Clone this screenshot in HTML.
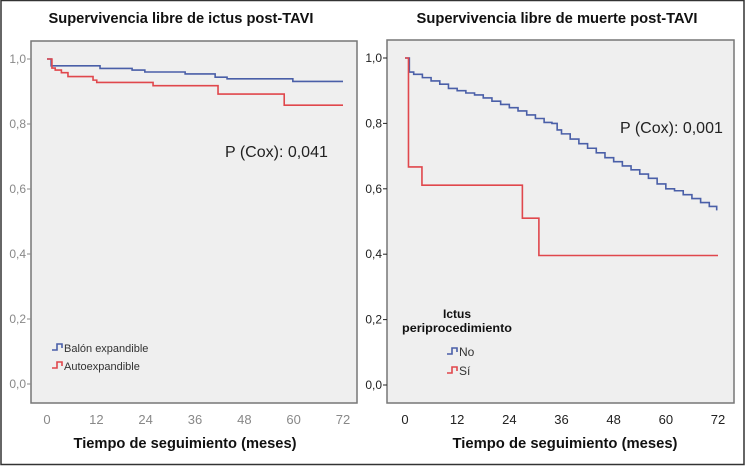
<!DOCTYPE html>
<html><head><meta charset="utf-8"><style>
html,body{margin:0;padding:0;background:#fff;}
svg{display:block;font-family:"Liberation Sans",sans-serif;}
</style></head><body>
<svg id="c" width="750" height="474" viewBox="0 0 750 474">
<rect x="1" y="0.5" width="743" height="464" fill="#fff" stroke="#333" stroke-width="1.5"/>
<g id="L">
<text x="181" y="23" text-anchor="middle" font-weight="bold" font-size="15" textLength="265" lengthAdjust="spacingAndGlyphs" fill="#111">Supervivencia libre de ictus post-TAVI</text>
<rect x="31" y="41" width="326" height="362" fill="#efefef" stroke="#777" stroke-width="1.5"/>
<text x="225" y="157" font-size="16" fill="#222">P (Cox): 0,041</text>
<text x="185" y="448" text-anchor="middle" font-weight="bold" font-size="15" textLength="223" lengthAdjust="spacingAndGlyphs" fill="#111">Tiempo de seguimiento (meses)</text>
</g>
<g id="R">
<text x="557" y="23" text-anchor="middle" font-weight="bold" font-size="15" textLength="281" lengthAdjust="spacingAndGlyphs" fill="#111">Supervivencia libre de muerte post-TAVI</text>
<rect x="387" y="40" width="347" height="363" fill="#efefef" stroke="#777" stroke-width="1.5"/>
<text x="620" y="133" font-size="16" fill="#222">P (Cox): 0,001</text>
<text x="565" y="448" text-anchor="middle" font-weight="bold" font-size="15" textLength="225" lengthAdjust="spacingAndGlyphs" fill="#111">Tiempo de seguimiento (meses)</text>
<text x="457" y="318" text-anchor="middle" font-weight="bold" font-size="12" fill="#111">Ictus</text>
<text x="457" y="332" text-anchor="middle" font-weight="bold" font-size="12" textLength="110" lengthAdjust="spacingAndGlyphs" fill="#111">periprocedimiento</text>
</g>
</svg>
<script>
// x ticks
const xTicks = [0, 12, 24, 36, 48, 60, 72];
const yTicks = [0, 0.2, 0.4, 0.6, 0.8, 1.0];
const yTickLabels = ["0,0", "0,2", "0,4", "0,6", "0,8", "1,0"];
// Left panel: stroke-free survival
const leftBlueT = [0, 1, 12.9, 20.7, 23.8, 33.6, 40.9, 43.8, 59.8, 72];
const leftBlueS = [1.0, 0.979, 0.971, 0.966, 0.96, 0.954, 0.944, 0.939, 0.931, 0.931];
const leftRedT = [0, 1.2, 2, 3.5, 5.1, 11.2, 12.1, 25.8, 41.6, 57.7, 72];
const leftRedS = [1.0, 0.972, 0.966, 0.958, 0.946, 0.935, 0.928, 0.918, 0.892, 0.858, 0.858];
// Right panel: death-free survival
const rightBlueT = [0, 1, 2, 4, 6, 8, 10, 12, 14, 16, 18, 20, 22, 24, 26, 28, 30, 32, 33.8, 35, 36, 38, 40, 42, 44, 46, 48, 50, 52, 54, 56, 58, 60, 62, 64, 66, 68, 70, 71.7];
const rightBlueS = [1.0, 0.957, 0.95, 0.94, 0.93, 0.92, 0.907, 0.9, 0.893, 0.887, 0.878, 0.868, 0.858, 0.848, 0.838, 0.826, 0.815, 0.803, 0.8, 0.78, 0.768, 0.752, 0.738, 0.724, 0.71, 0.695, 0.683, 0.67, 0.658, 0.645, 0.632, 0.615, 0.6, 0.594, 0.582, 0.57, 0.558, 0.546, 0.534];
const rightRedT = [0, 0.8, 3.9, 27, 30.8, 72];
const rightRedS = [1.0, 0.667, 0.611, 0.51, 0.396, 0.396];

const NS = "http://www.w3.org/2000/svg";
const svg = document.getElementById('c');
function mk(tag, attrs, parent, txt) {
  const e = document.createElementNS(NS, tag);
  for (const k in attrs) e.setAttribute(k, attrs[k]);
  if (txt !== undefined) e.textContent = txt;
  (parent || svg).appendChild(e);
  return e;
}
const panels = {
  L: { x0: 47, x1: 343, y0: 384, y1: 59, left: 31, bottom: 403, tickCol: "#888", g: document.getElementById('L') },
  R: { x0: 405, x1: 718, y0: 385, y1: 58, left: 387, bottom: 403, tickCol: "#222", g: document.getElementById('R') }
};
function sx(p, t) { return p.x0 + (p.x1 - p.x0) * t / 72; }
function sy(p, s) { return p.y0 + (p.y1 - p.y0) * s; }
function axes(p, pre) {
  xTicks.forEach(t => {
    const tx = mk('text', { x: sx(p, t), y: 424, 'text-anchor': 'middle', 'font-size': 13, fill: p.tickCol }, p.g, String(t));
    
    
  });
  yTicks.forEach((v, i) => {
    const y = sy(p, v);
    const ln = mk('line', { x1: p.left - 4, x2: p.left, y1: y, y2: y, stroke: p.tickCol, 'stroke-width': 1 }, p.g);
    
    
    const tx = mk('text', { x: p.left - 5, y: y + 4, 'text-anchor': 'end', 'font-size': 12, fill: p.tickCol }, p.g, yTickLabels[i]);
    
    
  });
}
function curve(p, T, S, col, name) {
  let d = 'M' + sx(p, T[0]) + ' ' + sy(p, S[0]);
  for (let i = 1; i < T.length; i++) {
    d += ' H' + sx(p, T[i]) + ' V' + sy(p, S[i]);
  }
  const e = mk('path', { d: d, fill: 'none', stroke: col, 'stroke-width': 1.6 }, p.g);
  
  
}
function legIcon(g, x, y, col, label, fs, name) {
  const e = mk('path', { d: `M${x} ${y} H${x+5} V${y-6} H${x+10} V${y-2}`, fill: 'none', stroke: col, 'stroke-width': 1.6 }, g);
  
  
  const t = mk('text', { x: x + 12, y: y + 2, 'font-size': fs, fill: '#333' }, g, label);
  
  
}
const BLUE = "#4a5fa8", RED = "#e0474c";
axes(panels.L, 'left');
axes(panels.R, 'right');
curve(panels.L, leftBlueT, leftBlueS, BLUE, 'balloon-expandable-curve');
curve(panels.L, leftRedT, leftRedS, RED, 'self-expandable-curve');
curve(panels.R, rightBlueT, rightBlueS, BLUE, 'no-stroke-curve');
curve(panels.R, rightRedT, rightRedS, RED, 'stroke-curve');
legIcon(panels.L.g, 52, 350, BLUE, 'Balón expandible', 11, 'legend-balloon-expandable');
legIcon(panels.L.g, 52, 368, RED, 'Autoexpandible', 11, 'legend-self-expandable');
legIcon(panels.R.g, 447, 354, BLUE, 'No', 12, 'legend-no');
legIcon(panels.R.g, 447, 373, RED, 'Sí', 12, 'legend-si');
</script>
</body></html>
